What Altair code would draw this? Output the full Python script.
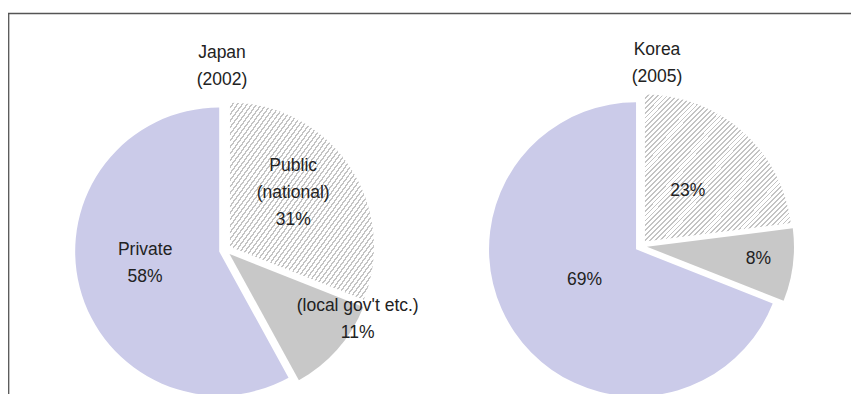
import altair as alt
import pandas as pd

# ---- data ----
COUNTRIES = ["Japan", "Korea"]
YEARS = ["2002", "2005"]
CATEGORIES = ["Public", "Local", "Private"]
JAPAN_VALUES = [31, 11, 58]
KOREA_VALUES = [23, 8, 69]
JAPAN_NAMES = ["Public\n(national)", "(local gov't etc.)", "Private"]
KOREA_NAMES = ["", "", ""]

rows = []
for country, vals, names in [("Japan", JAPAN_VALUES, JAPAN_NAMES), ("Korea", KOREA_VALUES, KOREA_NAMES)]:
    for i, (cat, v, nm) in enumerate(zip(CATEGORIES, vals, names)):
        lab = f"{v}%" if not nm else f"{nm}\n{v}%"
        rows.append({"country": country, "category": cat, "order": i, "value": v, "label": lab})
df = pd.DataFrame(rows)
titles = pd.DataFrame({"country": COUNTRIES, "title": [f"{c}\n({y})" for c, y in zip(COUNTRIES, YEARS)]})

# ---- layout ----
W, H = 843, 386
CENTER = {"Japan": (217, 242, 144), "Korea": (633, 238, 147)}
EXPLODE = 6
LINE_H = 27
TITLE_POS = {"Japan": (-3, 45), "Korea": (16, 41.5)}  # x offset from pie center, y of first line
# label radius and angular nudge (degrees) relative to slice middle
LABEL_POS = {
    ("Japan", "Public"): (89, -5.8), ("Japan", "Local"): (150, -13.6), ("Japan", "Private"): (81, 4.8),
    ("Korea", "Public"): (72, -0.9), ("Korea", "Local"): (118, -0.9), ("Korea", "Private"): (66, 2.9),
}
FONT = "Liberation Sans"
TEXT_COLOR = "#222222"
COLORS = {"Public": "#ffffff", "Local": "#c8c8c8", "Private": "#cbcbe9"}


def by_country(idx):
    return f"datum.country == 'Japan' ? {CENTER['Japan'][idx]} : {CENTER['Korea'][idx]}"


def by_slice(idx):
    expr = "0"
    for (c, k), v in LABEL_POS.items():
        expr = f"(datum.country == '{c}' && datum.category == '{k}') ? {v[idx]} : ({expr})"
    return expr


# hatch pattern as a striped linear gradient
N = 60
stops = []
for k in range(N):
    a = k / N
    b = (k + 0.64) / N
    c = (k + 1) / N
    stops += [
        {"offset": round(a, 5), "color": "#ffffff"},
        {"offset": round(b, 5), "color": "#ffffff"},
        {"offset": round(b, 5), "color": "#c4c4c4"},
        {"offset": round(c, 5), "color": "#c4c4c4"},
    ]
HATCH = {"gradient": "linear", "x1": 0, "y1": 0, "x2": 1, "y2": 1, "stops": stops}

base = (
    alt.Chart(df)
    .transform_window(cum="sum(value)", groupby=["country"], sort=[alt.SortField("order")], frame=[None, 0])
    .transform_joinaggregate(total="sum(value)", groupby=["country"])
    .transform_calculate(t0="(datum.cum - datum.value) / datum.total * 2 * PI")
    .transform_calculate(t1="datum.cum / datum.total * 2 * PI")
    .transform_calculate(mid="(datum.t0 + datum.t1) / 2")
    .transform_calculate(cx=by_country(0))
    .transform_calculate(cy=by_country(1))
    .transform_calculate(R=by_country(2))
    .transform_calculate(px=f"datum.cx + {EXPLODE} * sin(datum.mid)")
    .transform_calculate(py=f"datum.cy - {EXPLODE} * cos(datum.mid)")
    .transform_calculate(lr=by_slice(0))
    .transform_calculate(ld=by_slice(1))
    .transform_calculate(la="datum.mid + datum.ld * PI / 180")
    .transform_calculate(nl="length(split(datum.label, '\\n'))")
    .transform_calculate(lx="datum.cx + datum.lr * sin(datum.la)")
    .transform_calculate(ly=f"datum.cy - datum.lr * cos(datum.la) - (datum.nl - 1) * {LINE_H / 2}")
)

arc_enc = dict(
    x=alt.X("px:Q", scale=None, axis=None),
    y=alt.Y("py:Q", scale=None, axis=None),
    theta=alt.Theta("t0:Q", scale=None),
    theta2=alt.Theta2("t1:Q"),
    radius=alt.Radius("R:Q", scale=None),
)

solid = base.transform_filter("datum.category != 'Public'").mark_arc(strokeWidth=0).encode(
    color=alt.Color(
        "category:N",
        scale=alt.Scale(domain=CATEGORIES, range=[COLORS[c] for c in CATEGORIES]),
        legend=None,
    ),
    **arc_enc,
)

hatched = base.transform_filter("datum.category == 'Public'").mark_arc(fill=HATCH, strokeWidth=0).encode(**arc_enc)

labels = base.mark_text(
    font=FONT, fontSize=17.5, lineHeight=LINE_H, lineBreak="\n", align="center", baseline="middle", color=TEXT_COLOR
).encode(
    x=alt.X("lx:Q", scale=None, axis=None),
    y=alt.Y("ly:Q", scale=None, axis=None),
    text="label:N",
)

title_text = (
    alt.Chart(titles)
    .transform_calculate(
        tx=f"datum.country == 'Japan' ? {CENTER['Japan'][0] + TITLE_POS['Japan'][0]} : {CENTER['Korea'][0] + TITLE_POS['Korea'][0]}"
    )
    .transform_calculate(ty=f"datum.country == 'Japan' ? {TITLE_POS['Japan'][1]} : {TITLE_POS['Korea'][1]}")
    .mark_text(font=FONT, fontSize=17.5, lineHeight=LINE_H, lineBreak="\n", align="center", baseline="middle", color=TEXT_COLOR)
    .encode(x=alt.X("tx:Q", scale=None, axis=None), y=alt.Y("ty:Q", scale=None, axis=None), text="title:N")
)

one = alt.Data(values=[{}])
top_rule = alt.Chart(one).mark_rule(color="#555555", strokeWidth=1.3).encode(
    x=alt.value(0), x2=alt.value(W), y=alt.value(5.5)
)
left_rule = alt.Chart(one).mark_rule(color="#555555", strokeWidth=1.3).encode(
    x=alt.value(0.7), y=alt.value(5.5), y2=alt.value(H)
)

chart = (
    alt.layer(solid, hatched, labels, title_text, top_rule, left_rule)
    .properties(width=W, height=H, padding=0, autosize=alt.AutoSizeParams(type="none"), background="white")
    .configure_view(stroke=None)
)

chart.save("out.html", embed_options={"renderer": "svg", "actions": False})
